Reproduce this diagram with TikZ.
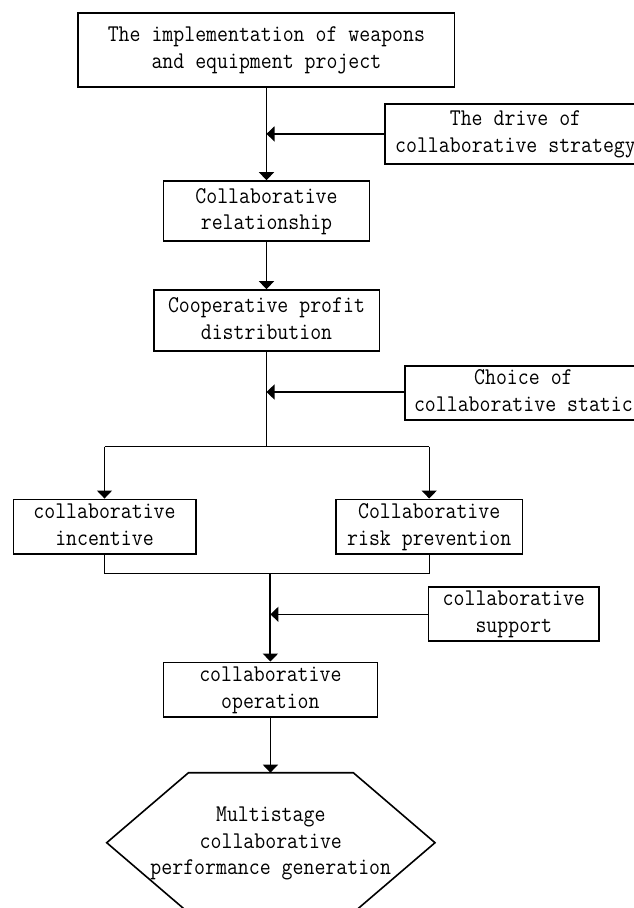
\documentclass[tikz,border=0pt]{standalone}
\usepackage{graphicx}
\usetikzlibrary{arrows.meta}
\newcommand\nt[1]{\scalebox{0.885}[1]{\strut #1}}
\begin{document}
\begin{tikzpicture}[x=1pt,y=-1pt,
  box/.style={draw=black,line width=1.6pt,rectangle,inner sep=0pt,align=center,
    font=\fontsize{24}{26.6}\selectfont\ttfamily},
  conn/.style={line width=1.3pt,draw=black},
  arr/.style={conn,-{Triangle[length=8pt,width=15pt]}},
  thick conn/.style={line width=2pt,draw=black},
  thick arr/.style={thick conn,-{Triangle[length=8pt,width=15pt]}}]
\useasboundingbox (0,0) rectangle (634,908);
\clip (0,0) rectangle (634,908);
\fill[white] (0,0) rectangle (634,908);

\node[box,minimum width=376.5pt,minimum height=74pt] (b1) at (266.4,49.7)
  {\nt{The implementation of weapons}\\\nt{and equipment project}};
\node[box,minimum width=261pt,minimum height=60.3pt] (drive) at (515.5,133.9)
  {\nt{The drive of}\\\nt{collaborative strategy}};
\node[box,minimum width=206pt,minimum height=60pt] (rel) at (266.5,211)
  {\nt{Collaborative}\\\nt{relationship}};
\node[box,minimum width=225.6pt,minimum height=61pt] (prof) at (266.5,320.5)
  {\nt{Cooperative profit}\\\nt{distribution}};
\node[box,minimum width=237pt,minimum height=54.3pt] (choice) at (523.4,392.9)
  {\nt{Choice of}\\\nt{collaborative static}};
\node[box,minimum width=182.4pt,minimum height=54.7pt] (inc) at (104.5,526.7)
  {\nt{collaborative}\\\nt{incentive}};
\node[box,minimum width=186.4pt,minimum height=54.7pt] (risk) at (429.2,526.7)
  {\nt{Collaborative}\\\nt{risk prevention}};
\node[box,minimum width=170.3pt,minimum height=54.3pt] (sup) at (513.8,613.9)
  {\nt{collaborative}\\\nt{support}};
\node[box,minimum width=213.9pt,minimum height=54.7pt] (op) at (270.4,689.7)
  {\nt{collaborative}\\\nt{operation}};

% hexagon
\draw[line width=1.6pt] (188.5,772.7) -- (353.3,772.7) -- (435,842.7) -- (353.3,912.7)
  -- (188.5,912.7) -- (106.7,842.7) -- cycle;
\node[box,draw=none] (hex) at (270.8,842.7)
  {\nt{Multistage}\\\nt{collaborative}\\\nt{performance generation}};
\coordinate (hextop) at (270.4,772.7);

% junction coordinates
\coordinate (j1) at (266.5,133.9);
\coordinate (j2) at (266.5,392);
\coordinate (split) at (266.5,446.7);
\coordinate (sl) at (104.5,446.7);
\coordinate (sr) at (429.2,446.7);
\coordinate (ml) at (104.5,573.3);
\coordinate (mr) at (429.2,573.3);
\coordinate (mc) at (270.4,573.3);
\coordinate (j3) at (270.4,614.3);

% connectors
\draw[arr] (b1.south -| rel.north) -- (rel.north);
\draw[arr] (drive.west) -- (j1);
\draw[arr] (rel.south) -- (prof.north);
\draw[conn] (prof.south) -- (split);
\draw[arr] (choice.west |- j2) -- (j2);
\draw[conn] (sl) -- (sr);
\draw[arr] (sl) -- (inc.north);
\draw[arr] (sr) -- (risk.north);
\draw[conn] (inc.south) -- (ml) -- (mr) -- (risk.south);
\draw[thick arr] (mc) -- (op.north);
\draw[arr] (sup.west |- j3) -- (j3);
\draw[arr] (op.south) -- (hextop);
\end{tikzpicture}
\end{document}
